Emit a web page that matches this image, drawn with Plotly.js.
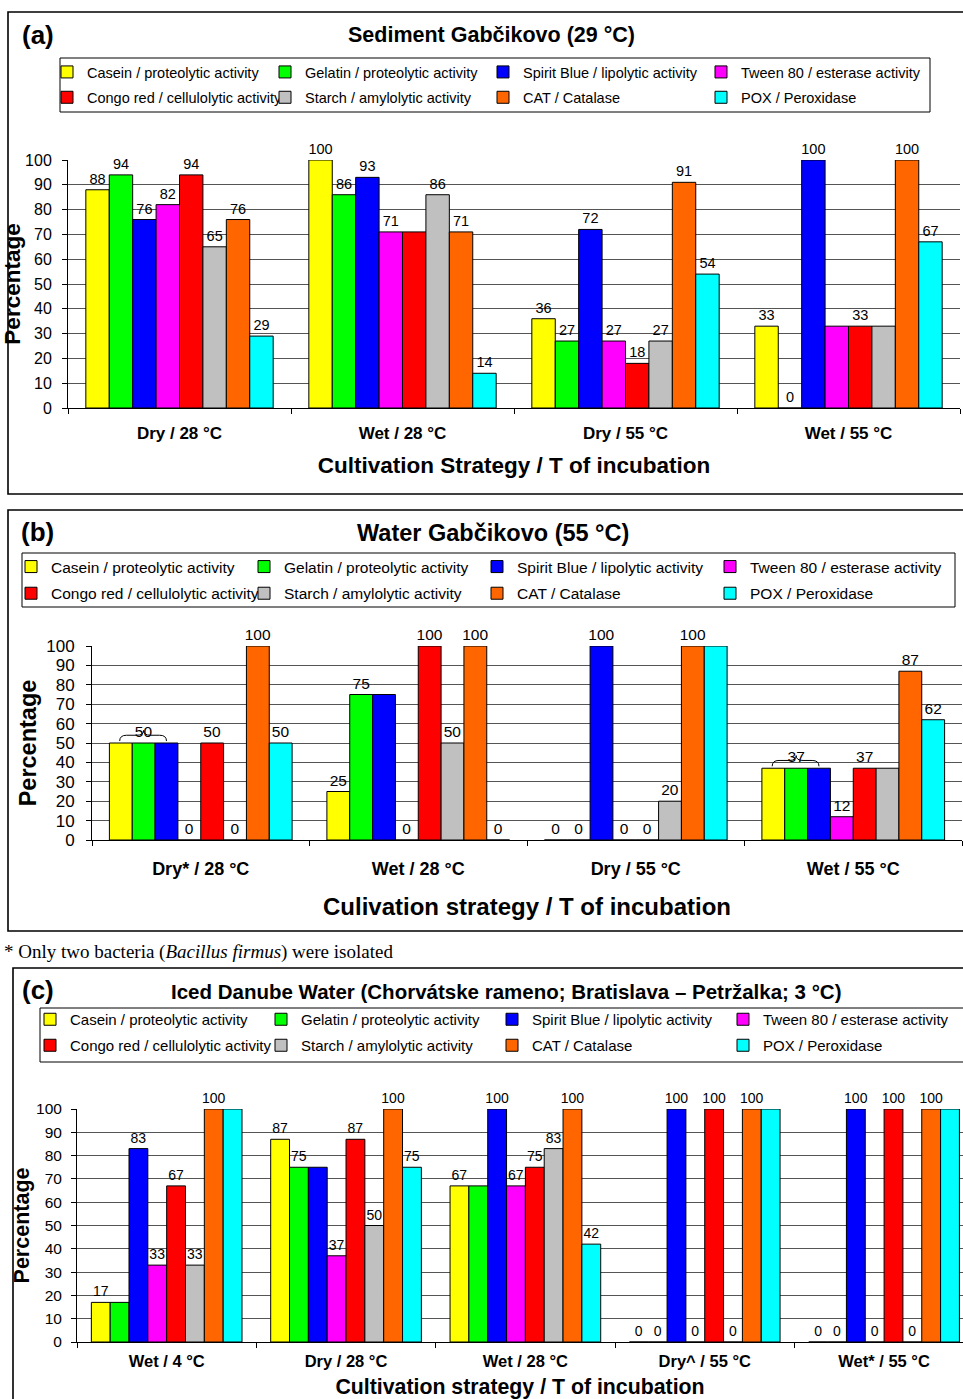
<!DOCTYPE html>
<html><head><meta charset="utf-8">
<script src="https://cdn.plot.ly/plotly-3.0.1.min.js"></script>
<style>html,body{margin:0;padding:0;background:#fff}#chart{width:963px;height:1399px}</style>
</head><body><div id="chart"></div>
<script>
// ---------- DATA ----------
const seriesNames = ["Casein / proteolytic activity", "Gelatin / proteolytic activity", "Spirit Blue / lipolytic activity", "Tween 80 / esterase activity",
  "Congo red / cellulolytic activity", "Starch / amylolytic activity", "CAT / Catalase", "POX / Peroxidase"];
const seriesColors = ["#FFFF00", "#00FF00", "#0000FF", "#FF00FF", "#FF0000", "#C0C0C0", "#FF6600", "#00FFFF"];

// (a) Sediment Gabčikovo
const catsA = ["Dry / 28 °C", "Wet / 28 °C", "Dry / 55 °C", "Wet / 55 °C"];
const valuesA = [
  [88, 100, 36, 33],
  [94, 86, 27, 0],
  [76, 93, 72, 100],
  [82, 71, 27, 33],
  [94, 71, 18, 33],
  [65, 86, 27, 33],
  [76, 71, 91, 100],
  [29, 14, 54, 67]
];
const labelsA = [
  ["88", "100", "36", "33"],
  ["94", "86", "27", "0"],
  ["76", "93", "72", "100"],
  ["82", "71", "27", ""],
  ["94", "", "18", "33"],
  ["65", "86", "27", ""],
  ["76", "71", "91", "100"],
  ["29", "14", "54", "67"]
];

// (b) Water Gabčikovo
const catsB = ["Dry* / 28 °C", "Wet / 28 °C", "Dry / 55 °C", "Wet / 55 °C"];
const valuesB = [
  [50, 25, 0, 37],
  [50, 75, 0, 37],
  [50, 75, 100, 37],
  [0, 0, 0, 12],
  [50, 100, 0, 37],
  [0, 50, 20, 37],
  [100, 100, 100, 87],
  [50, 0, 100, 62]
];
const labelsB = [
  ["", "25", "0", ""],
  ["50", "75", "0", "37"],
  ["", "", "100", ""],
  ["0", "0", "0", "12"],
  ["50", "100", "0", "37"],
  ["0", "50", "20", ""],
  ["100", "100", "100", "87"],
  ["50", "0", "", "62"]
];
const braceGroupsB = [0, 3]; // categories where casein/gelatin/spirit blue share one label

// (c) Iced Danube Water
const catsC = ["Wet / 4 °C", "Dry / 28 °C", "Wet / 28 °C", "Dry^ / 55 °C", "Wet* / 55 °C"];
const valuesC = [
  [17, 87, 67, 0, 0],
  [17, 75, 67, 0, 0],
  [83, 75, 100, 100, 100],
  [33, 37, 67, 0, 0],
  [67, 87, 75, 100, 100],
  [33, 50, 83, 0, 0],
  [100, 100, 100, 100, 100],
  [100, 75, 42, 100, 100]
];
const labelsC = [
  ["17", "87", "67", "0", "0"],
  ["", "75", "", "0", "0"],
  ["83", "", "100", "100", "100"],
  ["33", "37", "67", "0", "0"],
  ["67", "87", "75", "100", "100"],
  ["33", "50", "83", "0", "0"],
  ["100", "100", "100", "100", "100"],
  ["", "75", "42", "", ""]
];

// ---------- BUILD ----------
const W = 963, H = 1399;
const FONT = "Liberation Sans, Arial, sans-serif";
const px = v => v / W;
const py = v => 1 - v / H;

const panels = [
  {cats: catsA, vals: valuesA, labs: labelsA, xa: "x", ya: "y", lg: "legend", tsize: 14.5, lastW: 212},
  {cats: catsB, vals: valuesB, labs: labelsB, xa: "x2", ya: "y2", lg: "legend2", tsize: 15.5, lastW: 203},
  {cats: catsC, vals: valuesC, labs: labelsC, xa: "x3", ya: "y3", lg: "legend3", tsize: 14, lastW: 190}
];

const traces = [];
panels.forEach((p, pi) => {
  seriesNames.forEach((name, i) => {
    const t = {
      type: "bar", name: name, x: p.cats, y: p.vals[i], text: p.labs[i],
      textposition: "outside", constraintext: "none", cliponaxis: false,
      textfont: {family: FONT, size: p.tsize, color: "#000"},
      marker: {color: seriesColors[i], line: {color: "#000", width: 1}},
      xaxis: p.xa, yaxis: p.ya, legend: p.lg, legendgroup: "p" + pi + "s" + i,
      hoverinfo: "x+y+name"
    };
    if (i % 4 === 3) t.legendwidth = p.lastW; // last legend column: leave room for full text
    traces.push(t);
  });
});

const BARGAP = 0.16;
const nS = seriesNames.length;
const bw = (1 - BARGAP) / nS;

const shapes = [];
// braces in panel (b)
braceGroupsB.forEach(j => {
  const v = valuesB[1][j];
  const x0 = j - (1 - BARGAP) / 2 + bw * 0.45;
  const x1 = j - (1 - BARGAP) / 2 + bw * 2.5;
  const xm = j - (1 - BARGAP) / 2 + bw * 1.5;
  const yt = v + 1, yl = v + 4, yp = v + 6.5, d = bw * 0.3;
  shapes.push({type: "path", xref: "x2", yref: "y2",
    path: `M${x0},${yt} Q${x0},${yl} ${x0 + d},${yl} L${xm - d},${yl} Q${xm},${yl} ${xm},${yp} Q${xm},${yl} ${xm + d},${yl} L${x1 - d},${yl} Q${x1},${yl} ${x1},${yt}`,
    line: {color: "#000", width: 1}});
});
// panel frames
[[8, 12, 494], [8, 510, 931], [13, 968, 1420]].forEach(f => {
  shapes.push({type: "rect", xref: "paper", yref: "paper", x0: px(f[0]), x1: px(975), y0: py(f[1]), y1: py(f[2]),
    line: {color: "#000", width: 1.6}, layer: "below"});
});
// legend boxes
[[60, 58, 930, 112], [22, 553, 955, 607], [40, 1008, 985, 1062]].forEach(b => {
  shapes.push({type: "rect", xref: "paper", yref: "paper", x0: px(b[0]), x1: px(b[2]), y0: py(b[1]), y1: py(b[3]),
    line: {color: "#000", width: 1}, layer: "below"});
});

function yax(domain, standoff, tfs) {
  return {domain: domain, range: [0, 100], dtick: 10, tick0: 0, showgrid: true, gridcolor: "#555", gridwidth: 1,
    showline: true, linecolor: "#000", linewidth: 1, ticks: "outside", ticklen: 5, tickcolor: "#000",
    ticklabelstandoff: standoff, tickfont: {family: FONT, size: tfs, color: "#000"}, zeroline: false, fixedrange: true};
}
function xax(domain, anchor, standoff, tfs, title, tstand, titleSize) {
  return {domain: domain, anchor: anchor, type: "category", showline: true, linecolor: "#000", linewidth: 1,
    ticks: "outside", tickson: "boundaries", ticklen: 5, tickcolor: "#000", ticklabelstandoff: standoff,
    tickfont: {family: FONT, size: tfs, color: "#000", weight: "bold"}, showgrid: false, fixedrange: true,
    title: {text: title, standoff: tstand, font: {family: FONT, size: titleSize, color: "#000", weight: "bold"}}};
}

const ya = yax([py(408), py(160)], 7, 16);
ya.title = {text: "Percentage", standoff: 0, font: {family: FONT, size: 22.5, color: "#000", weight: "bold"}};
const yb = yax([py(840), py(646)], 8, 17);
yb.anchor = "x2";
yb.title = {text: "Percentage", standoff: 2, font: {family: FONT, size: 23.5, color: "#000", weight: "bold"}};
const yc = yax([py(1342), py(1109)], 6, 15.5);
yc.anchor = "x3";
yc.title = {text: "Percentage", standoff: 0, font: {family: FONT, size: 21.5, color: "#000", weight: "bold"}};

const xa = xax([px(68), px(960)], "y", 10, 17, "Cultivation Strategy / T of incubation", 14, 22.5);
const xb = xax([px(92), px(962)], "y2", 12, 18, "Culivation strategy / T of incubation", 20, 24);
const xc = xax([px(77), 1], "y3", 4, 16.5, "Cultivation strategy / T of incubation", 11, 21.3);
xc.range = [-0.5, 4.44];

function legendCfg(left, top, fs, ew, gap) {
  return {orientation: "h", x: px(left), xanchor: "left", y: py(top), yanchor: "top",
    borderwidth: 0, bgcolor: "rgba(0,0,0,0)", font: {family: FONT, size: fs, color: "#000"},
    entrywidth: ew, entrywidthmode: "pixels", tracegroupgap: gap, traceorder: "grouped", itemclick: false, itemdoubleclick: false};
}

const ann = (text, x, y, size, extra) => Object.assign({text: text, x: px(x), y: py(y), xref: "paper", yref: "paper",
  showarrow: false, xanchor: "center", yanchor: "middle", font: {family: FONT, size: size, color: "#000", weight: "bold"}}, extra || {});

const annotations = [
  ann("(a)", 38, 35, 26),
  ann("Sediment Gabčikovo (29 °C)", 491, 35, 21.5),
  ann("(b)", 37, 532, 26),
  ann("Water Gabčikovo (55 °C)", 493, 533, 23.5),
  ann("* Only two bacteria (<i>Bacillus firmus</i>) were isolated", 2, 952, 19,
    {xanchor: "left", font: {family: "Liberation Serif, Times New Roman, serif", size: 19, color: "#000"}}),
  ann("(c)", 38, 990, 26),
  ann("Iced Danube Water (Chorvátske rameno; Bratislava – Petržalka; 3 °C)", 507, 991, 20.5)
];

const layout = {
  width: W, height: H, margin: {l: 0, r: 0, t: 0, b: 0}, paper_bgcolor: "#fff", plot_bgcolor: "#fff",
  barmode: "group", bargap: BARGAP, bargroupgap: 0, showlegend: true,
  xaxis: xa, yaxis: ya, xaxis2: xb, yaxis2: yb, xaxis3: xc, yaxis3: yc,
  legend: legendCfg(47, 56, 14.5, 173, 3.5),
  legend2: legendCfg(11, 550, 15.5, 188, 3.5),
  legend3: legendCfg(30, 1003, 15, 186, 3.5),
  shapes: shapes, annotations: annotations, font: {family: FONT, color: "#000"}
};

Plotly.newPlot("chart", traces, layout, {displayModeBar: false});
</script>
</body></html>
